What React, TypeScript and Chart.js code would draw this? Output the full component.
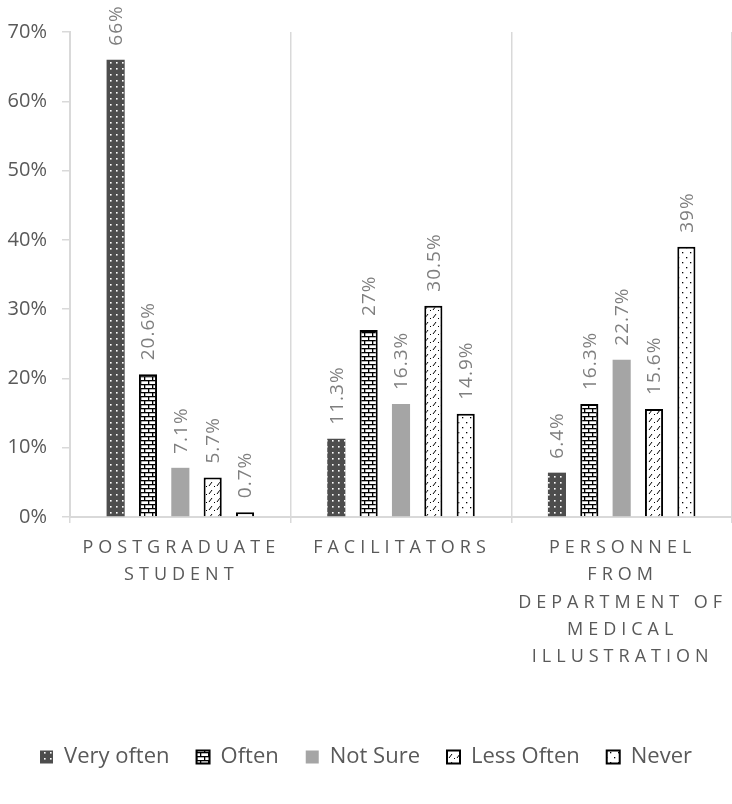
import React, { useEffect, useRef } from "react";
import { Chart, registerables } from "chart.js";

Chart.register(...registerables);

const categories: string[][] = [
  ["POSTGRADUATE", "STUDENT"],
  ["FACILITATORS"],
  ["PERSONNEL", "FROM", "DEPARTMENT OF", "MEDICAL", "ILLUSTRATION"],
];
const seriesNames = ["Very often", "Often", "Not Sure", "Less Often", "Never"];
const veryOften = [66, 11.3, 6.4];
const often = [20.6, 27, 16.3];
const notSure = [7.1, 16.3, 22.7];
const lessOften = [5.7, 30.5, 15.6];
const never = [0.7, 14.9, 39];
const yMax = 70;
const yStep = 10;

const FONT = "'Open Sans', 'DejaVu Sans', sans-serif";
const TEXT = "#595959";

function makePattern(kind: string): CanvasPattern | string {
  const c = document.createElement("canvas");
  const g = c.getContext("2d")!;
  if (kind === "dots") {
    c.width = 6; c.height = 6;
    g.fillStyle = "#4d4d4d"; g.fillRect(0, 0, 6, 6);
    g.fillStyle = "#ffffff"; g.fillRect(2, 2, 1.6, 1.6);
  } else if (kind === "brick") {
    c.width = 8; c.height = 8;
    g.fillStyle = "#ffffff"; g.fillRect(0, 0, 8, 8);
    g.fillStyle = "#000000";
    g.fillRect(0, 0, 8, 1.3);
    g.fillRect(0, 4, 8, 1.3);
    g.fillRect(0, 0, 1.3, 4);
    g.fillRect(4, 4, 1.3, 4);
  } else if (kind === "dash") {
    c.width = 8; c.height = 8;
    g.fillStyle = "#ffffff"; g.fillRect(0, 0, 8, 8);
    g.strokeStyle = "#000000"; g.lineWidth = 1;
    g.beginPath(); g.moveTo(1, 6); g.lineTo(4, 2); g.stroke();
    g.fillStyle = "#000000"; g.fillRect(6, 6, 1, 1);
  } else if (kind === "sparse") {
    c.width = 8; c.height = 10;
    g.fillStyle = "#ffffff"; g.fillRect(0, 0, 8, 10);
    g.fillStyle = "#000000";
    g.fillRect(2, 2, 1.3, 1.3);
    g.fillRect(6, 7, 1.3, 1.3);
  } else {
    return "#a5a5a5";
  }
  return g.createPattern(c, "repeat")!;
}

const valueLabels = {
  id: "valueLabels",
  afterDatasetsDraw(chart: any) {
    const ctx = chart.ctx as CanvasRenderingContext2D;
    ctx.save();
    ctx.font = `19px ${FONT}`;
    (ctx as any).letterSpacing = "1px";
    ctx.fillStyle = "#7f7f7f";
    ctx.textAlign = "left";
    ctx.textBaseline = "middle";
    chart.data.datasets.forEach((ds: any, di: number) => {
      const meta = chart.getDatasetMeta(di);
      meta.data.forEach((bar: any, i: number) => {
        const v = ds.data[i];
        ctx.save();
        ctx.translate(bar.x + 1, bar.y - 14);
        ctx.rotate(-Math.PI / 2);
        ctx.fillText(`${v}%`, 0, 0);
        ctx.restore();
      });
    });
    ctx.restore();
  },
};

const categoryLabels = {
  id: "categoryLabels",
  afterDraw(chart: any) {
    const ctx = chart.ctx as CanvasRenderingContext2D;
    const xs = chart.scales.x;
    const base = chart.chartArea.bottom;
    ctx.save();
    ctx.font = `18px ${FONT}`;
    (ctx as any).letterSpacing = "5px";
    ctx.fillStyle = TEXT;
    ctx.textAlign = "center";
    ctx.textBaseline = "middle";
    categories.forEach((lines, i) => {
      const x = xs.getPixelForTick(i);
      lines.forEach((line, j) => {
        ctx.fillText(line, x + 1, base + 31 + j * 27.3);
      });
    });
    ctx.restore();
  },
};

export default function App() {
  const ref = useRef<HTMLCanvasElement>(null);
  useEffect(() => {
    document.body.style.margin = "0";
    const kinds = ["dots", "brick", "solid", "dash", "sparse"];
    const values = [veryOften, often, notSure, lessOften, never];
    const borders = ["#4d4d4d", "#000000", "#a5a5a5", "#000000", "#000000"];
    const bw = [0, 2, 0, 2, 2];
    const chart = new Chart(ref.current!, {
      type: "bar",
      data: {
        labels: categories.map((c) => c.join(" ")),
        datasets: seriesNames.map((name, k) => ({
          label: name,
          data: values[k],
          backgroundColor: makePattern(kinds[k]) as any,
          borderColor: borders[k],
          borderWidth: bw[k],
          categoryPercentage: 0.733,
          barPercentage: 0.56,
        })),
      },
      options: {
        responsive: false,
        animation: false,
        layout: { padding: { top: 32, left: 0, right: 0, bottom: 26 } },
        plugins: {
          tooltip: { enabled: false },
          legend: {
            position: "bottom",
            labels: {
              font: { family: FONT, size: 22 },
              color: TEXT,
              boxWidth: 13,
              boxHeight: 13,
              padding: 27,
            },
          },
        },
        scales: {
          x: {
            afterFit: (s: any) => { s.height = 202; },
            ticks: { display: false },
            grid: {
              offset: true,
              color: (c: any) => (c.index === 3 ? "rgba(0,0,0,0)" : "#d9d9d9"),
              lineWidth: 1.5,
              tickLength: 6,
            },
            border: { display: true, color: "#d9d9d9", width: 2 },
          },
          y: {
            min: 0,
            max: yMax,
            afterFit: (s: any) => { s.width = 70; },
            ticks: {
              stepSize: yStep,
              padding: 15,
              color: TEXT,
              font: { family: FONT, size: 20 },
              callback: (v: any) => `${v}%`,
            },
            grid: {
              drawOnChartArea: false,
              drawTicks: true,
              tickLength: 8,
              color: "#d9d9d9",
              lineWidth: 1.5,
            },
            border: { display: true, color: "#d9d9d9", width: 2 },
          },
        },
      },
      plugins: [valueLabels, categoryLabels],
    });
    return () => chart.destroy();
  }, []);
  return (
    <div style={{ width: 732, height: 804, background: "#ffffff" }}>
      <canvas ref={ref} width={732} height={804} />
    </div>
  );
}
